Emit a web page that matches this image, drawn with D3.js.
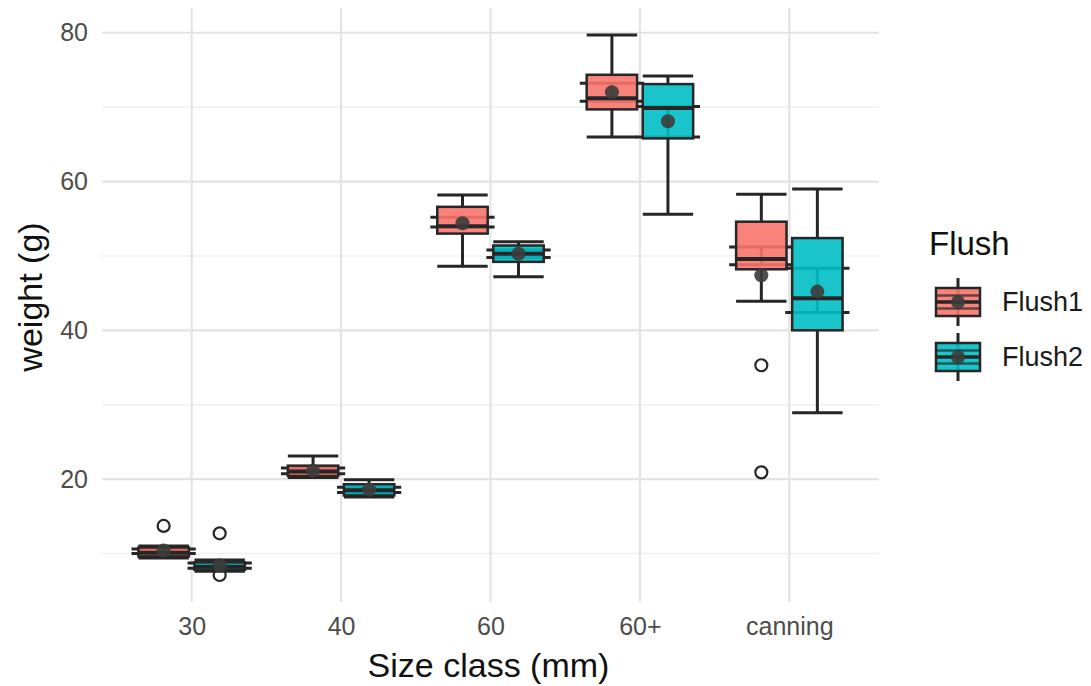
<!DOCTYPE html>
<html><head><meta charset="utf-8">
<script src="https://cdn.jsdelivr.net/npm/d3@7"></script>
<style>body{margin:0;background:#fff} text{font-family:"Liberation Sans",Arial,Helvetica,sans-serif}</style>
</head><body><svg id="c" width="1091" height="686"></svg>
<script>
const categories = ["30","40","60","60+","canning"];
const flushes = ["Flush1","Flush2"];
const colors = ["#F8766D","#00BFC4"];
const yTicks = [20,40,60,80];
const yMinor = [10,30,50,70];

// Flush1 box statistics per category
const f1Low  = [9.4, 20.2, 48.6, 66.0, 43.9];
const f1Q1   = [9.6, 20.4, 53.0, 69.7, 48.2];
const f1Med  = [10.1, 21.0, 54.0, 71.2, 49.6];
const f1Q3   = [10.8, 21.8, 56.6, 74.35, 54.6];
const f1High = [11.0, 23.1, 58.2, 79.7, 58.3];
const f1Mean = [10.4, 21.1, 54.4, 72.0, 47.4];
const f1CiLo = [10.0, 20.7, 53.9, 70.8, 48.8];
const f1CiHi = [10.6, 21.5, 55.2, 73.2, 51.2];
const f1Out  = [[13.7], [], [], [], [35.3, 20.9]];

// Flush2 box statistics per category
const f2Low  = [7.6, 17.6, 47.2, 55.6, 28.9];
const f2Q1   = [7.8, 17.8, 49.2, 65.8, 40.0];
const f2Med  = [8.2, 18.5, 50.3, 69.9, 44.3];
const f2Q3   = [8.8, 19.3, 51.4, 73.1, 52.4];
const f2High = [9.1, 19.9, 51.9, 74.2, 59.0];
const f2Mean = [8.4, 18.6, 50.3, 68.1, 45.2];
const f2CiLo = [8.0, 18.2, 49.8, 66.0, 42.4];
const f2CiHi = [8.7, 18.9, 50.8, 70.1, 48.35];
const f2Out  = [[12.7, 7.1], [], [], [], []];

const series = [
  {low:f1Low,q1:f1Q1,med:f1Med,q3:f1Q3,high:f1High,mean:f1Mean,lo:f1CiLo,hi:f1CiHi,out:f1Out},
  {low:f2Low,q1:f2Q1,med:f2Med,q3:f2Q3,high:f2High,mean:f2Mean,lo:f2CiLo,hi:f2CiHi,out:f2Out}
];
const rows = [];
series.forEach((s,si)=>categories.forEach((c,ci)=>rows.push({
  cat:c, fl:flushes[si], si, low:s.low[ci], q1:s.q1[ci], med:s.med[ci], q3:s.q3[ci],
  high:s.high[ci], mean:s.mean[ci], lo:s.lo[ci], hi:s.hi[ci], out:s.out[ci]})));

const svg = d3.select("#c");
const L=102, R=879, T=8, B=602;
const x = d3.scalePoint().domain(categories).range([L,R]).padding(0.6);
const step = x.step();
const xo = d3.scaleBand().domain(flushes).range([-0.375*step,0.375*step]);
let allV = rows.flatMap(r=>[r.low,r.high,...r.out]);
const vmin=d3.min(allV), vmax=d3.max(allV), ex=(vmax-vmin)*0.05;
const y = d3.scaleLinear().domain([vmin-ex, vmax+ex]).range([B,T]);
const color = d3.scaleOrdinal().domain(flushes).range(colors);

// grid
const g = svg.append("g");
g.selectAll(".ymin").data(yMinor).join("line").attr("x1",L).attr("x2",R)
  .attr("y1",d=>y(d)).attr("y2",d=>y(d)).attr("stroke","#f0f0f0").attr("stroke-width",1.5);
g.selectAll(".ymaj").data(yTicks).join("line").attr("x1",L).attr("x2",R)
  .attr("y1",d=>y(d)).attr("y2",d=>y(d)).attr("stroke","#e4e4e4").attr("stroke-width",2.2);
g.selectAll(".xmaj").data(categories).join("line").attr("y1",T).attr("y2",B)
  .attr("x1",d=>x(d)).attr("x2",d=>x(d)).attr("stroke","#e4e4e4").attr("stroke-width",2.2);

// axes (ggplot minimal: no lines, just labels)
const yAx = svg.append("g").attr("transform",`translate(${L},0)`)
  .call(d3.axisLeft(y).tickValues(yTicks).tickSize(0).tickPadding(14));
yAx.select(".domain").remove();
yAx.selectAll("text").attr("font-size",25).attr("fill","#4d4d4d").attr("font-family","Liberation Sans, Arial, sans-serif");
const xAx = svg.append("g").attr("transform",`translate(0,${B})`)
  .call(d3.axisBottom(x).tickSize(0).tickPadding(15));
xAx.select(".domain").remove();
xAx.selectAll("text").attr("font-size",25).attr("fill","#4d4d4d").attr("font-family","Liberation Sans, Arial, sans-serif");

svg.append("text").attr("x",(L+R)/2-2).attr("y",677).attr("text-anchor","middle")
  .attr("font-size",34).attr("fill","#111").text("Size class (mm)");
svg.append("text").attr("transform",`translate(42,${(T+B)/2-8}) rotate(-90)`).attr("text-anchor","middle")
  .attr("font-size",34).attr("fill","#111").text("weight (g)");

// boxes
const bw = 0.3375*step, ew = 0.43*step;
const dark="#262626";
const bx = svg.append("g");
rows.forEach(r=>{
  const cx = x(r.cat)+xo(r.fl)+xo.bandwidth()/2;
  const gg = bx.append("g");
  // errorbar (under box)
  gg.append("line").attr("x1",cx).attr("x2",cx).attr("y1",y(r.lo)).attr("y2",y(r.hi)).attr("stroke",dark).attr("stroke-width",3);
  [r.lo,r.hi].forEach(v=>gg.append("line").attr("x1",cx-ew/2).attr("x2",cx+ew/2).attr("y1",y(v)).attr("y2",y(v)).attr("stroke",dark).attr("stroke-width",3));
  // whiskers
  gg.append("line").attr("x1",cx).attr("x2",cx).attr("y1",y(r.high)).attr("y2",y(r.q3)).attr("stroke",dark).attr("stroke-width",3);
  gg.append("line").attr("x1",cx).attr("x2",cx).attr("y1",y(r.q1)).attr("y2",y(r.low)).attr("stroke",dark).attr("stroke-width",3);
  [r.low,r.high].forEach(v=>gg.append("line").attr("x1",cx-bw/2).attr("x2",cx+bw/2).attr("y1",y(v)).attr("y2",y(v)).attr("stroke",dark).attr("stroke-width",3));
  // box
  gg.append("rect").attr("x",cx-bw/2).attr("width",bw).attr("y",y(r.q3)).attr("height",Math.max(1,y(r.q1)-y(r.q3)))
    .attr("fill",color(r.fl)).attr("fill-opacity",0.9).attr("stroke",dark).attr("stroke-width",2.5);
  gg.append("line").attr("x1",cx-bw/2).attr("x2",cx+bw/2).attr("y1",y(r.med)).attr("y2",y(r.med)).attr("stroke",dark).attr("stroke-width",4);
  // outliers
  gg.selectAll(".o").data(r.out).join("circle").attr("cx",cx).attr("cy",d=>y(d)).attr("r",6)
    .attr("fill","none").attr("stroke",dark).attr("stroke-width",2.2);
  // mean
  gg.append("circle").attr("cx",cx).attr("cy",y(r.mean)).attr("r",7).attr("fill","#3c3c3c").attr("fill-opacity",0.9);
});

// legend
const lg = svg.append("g");
lg.append("text").attr("x",929).attr("y",255).attr("font-size",33).attr("fill","#111").text("Flush");
flushes.forEach((f,i)=>{
  const cy = 302 + i*55, kx = 958;
  const k = lg.append("g");
  k.append("line").attr("x1",kx).attr("x2",kx).attr("y1",cy-24).attr("y2",cy+24).attr("stroke",dark).attr("stroke-width",3);
  k.append("rect").attr("x",kx-22).attr("width",44).attr("y",cy-14).attr("height",28)
    .attr("fill",color(f)).attr("fill-opacity",0.9).attr("stroke",dark).attr("stroke-width",2.5);
  [-6.5,0,6.5].forEach(d=>k.append("line").attr("x1",kx-22).attr("x2",kx+22).attr("y1",cy+d).attr("y2",cy+d).attr("stroke",dark).attr("stroke-width",d===0?3.5:2.5).attr("stroke-opacity",d===0?1:0.7));
  k.append("circle").attr("cx",kx).attr("cy",cy).attr("r",7).attr("fill","#3c3c3c").attr("fill-opacity",0.9);
  lg.append("text").attr("x",1002).attr("y",cy).attr("dy","0.35em").attr("font-size",27).attr("fill","#1a1a1a").text(f);
});
</script></body></html>
